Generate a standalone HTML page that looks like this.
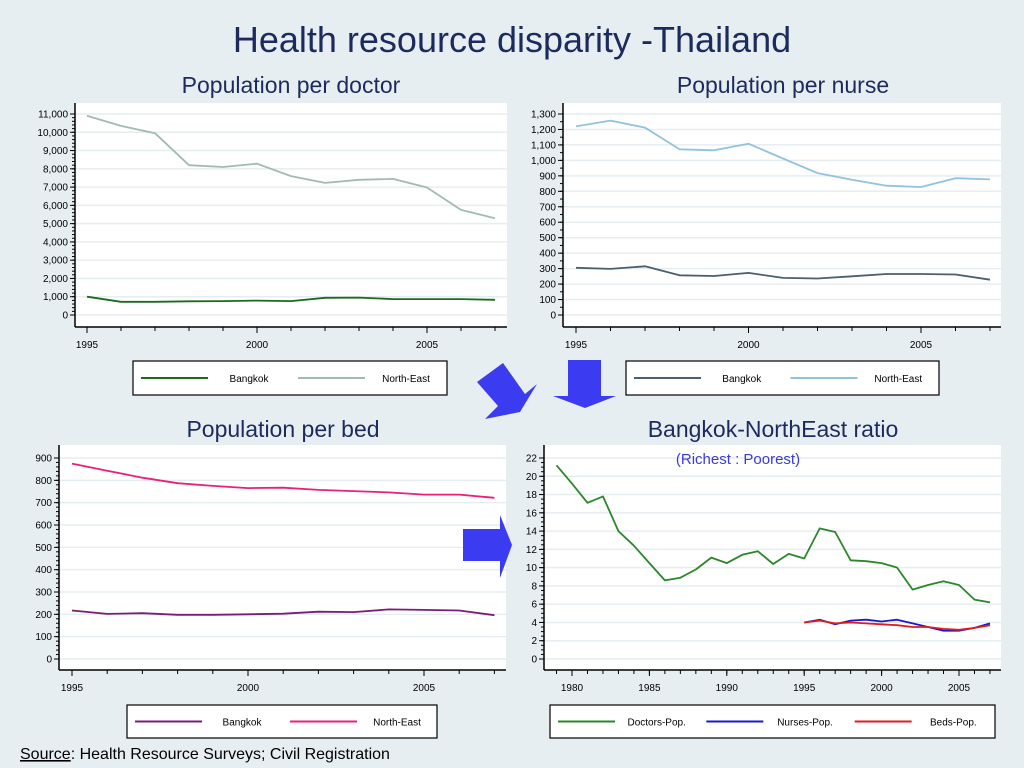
<!DOCTYPE html>
<html><head><meta charset="utf-8"><style>
body{margin:0;background:#e7eef2;}
svg{display:block;font-family:"Liberation Sans",sans-serif;}
</style></head><body>
<svg id="s" width="1024" height="768" viewBox="0 0 1024 768">
<rect width="1024" height="768" fill="#e7eef2"/>
<text x="512" y="52" text-anchor="middle" font-size="36" fill="#1c2b5e">Health resource disparity -Thailand</text>
<text x="291" y="93" text-anchor="middle" font-size="23" fill="#1c2b5e">Population per doctor</text>
<text x="783" y="93" text-anchor="middle" font-size="23" fill="#1c2b5e">Population per nurse</text>
<text x="283" y="437" text-anchor="middle" font-size="23" fill="#1c2b5e">Population per bed</text>
<text x="773" y="437" text-anchor="middle" font-size="23" fill="#1c2b5e">Bangkok-NorthEast ratio</text>
<text x="20" y="759" font-size="16" fill="#000"><tspan text-decoration="underline">Source</tspan>: Health Resource Surveys; Civil Registration</text>
<g id="charts"></g>
<polygon points="477,382 503,363 525,394 537,384 520,412 485,419 498,406" fill="#3b3bf2"/>
<polygon points="568,360 601,360 601,396 616,396 585,408 553,396 568,396" fill="#3b3bf2"/>
<polygon points="463,529 500,529 500,515 512,545 500,578 500,561 463,561" fill="#3b3bf2"/>
</svg>
<script>
const years = [1995,1996,1997,1998,1999,2000,2001,2002,2003,2004,2005,2006,2007];
const docBkk = [1000,720,720,750,760,790,760,940,950,870,870,870,830];
const docNE = [10900,10350,9950,8200,8100,8280,7600,7230,7400,7450,6980,5750,5300];
const docTicks = [0,1000,2000,3000,4000,5000,6000,7000,8000,9000,10000,11000];
const nurBkk = [305,298,315,257,252,272,240,236,250,265,265,262,228];
const nurNE = [1220,1257,1212,1072,1065,1108,1012,918,875,836,828,885,877];
const nurTicks = [0,100,200,300,400,500,600,700,800,900,1000,1100,1200,1300];
const bedBkk = [217,202,205,198,198,200,203,212,210,222,220,217,196];
const bedNE = [875,843,812,787,775,765,767,757,752,746,736,736,722];
const bedTicks = [0,100,200,300,400,500,600,700,800,900];
const ratioYears = [1979,1980,1981,1982,1983,1984,1985,1986,1987,1988,1989,1990,1991,1992,1993,1994,1995,1996,1997,1998,1999,2000,2001,2002,2003,2004,2005,2006,2007];
const ratioDoc = [21.2,19.2,17.1,17.8,14,12.4,10.5,8.6,8.9,9.8,11.1,10.5,11.4,11.8,10.4,11.5,11,14.3,13.9,10.8,10.7,10.5,10,7.6,8.1,8.5,8.1,6.5,6.2];
const ratioNur = [4.0,4.3,3.8,4.2,4.3,4.1,4.3,3.9,3.5,3.1,3.1,3.4,3.9];
const ratioBed = [4.0,4.2,3.9,4.0,3.9,3.8,3.7,3.5,3.5,3.3,3.2,3.4,3.7];
const ratioTicks = [0,2,4,6,8,10,12,14,16,18,20,22];

const NS="http://www.w3.org/2000/svg";
const root=document.getElementById('charts');
function mk(tag,attrs,parent){const e=document.createElementNS(NS,tag);for(const k in attrs)e.setAttribute(k,attrs[k]);(parent||root).appendChild(e);return e;}
const fmt=v=>v.toLocaleString('en-US');

function chart(c){
  const g=mk('g',{});
  
  
  const yv=v=>c.y0+(v-c.vmin)/(c.vmax-c.vmin)*(c.y1-c.y0);
  const xv=v=>c.x0+(v-c.t0)/(c.t1-c.t0)*(c.x1-c.x0);
  mk('rect',{x:c.axX,y:c.top,width:c.right-c.axX,height:c.axY-c.top,fill:'#fff'},g);
  c.yticks.forEach(t=>{
    const y=yv(t);
    const gl=mk('line',{x1:c.axX,x2:c.right,y1:y,y2:y,stroke:'#e6edf1','stroke-width':1.5},g);
    
    
    mk('line',{x1:c.axX-5,x2:c.axX,y1:y,y2:y,stroke:'#000'},g);
    const tl=mk('text',{x:c.axX-7,y:y+3.5,'text-anchor':'end','font-size':10,fill:'#000'},g);
    tl.textContent=fmt(t);
    
    
  });
  const step=(c.yticks[1]-c.yticks[0])/c.minor;
  for(let v=c.yticks[0];v<=c.yticks[c.yticks.length-1]+1e-9;v+=step){
    const y=yv(v);mk('line',{x1:c.axX-3,x2:c.axX,y1:y,y2:y,stroke:'#000'},g);
  }
  mk('line',{x1:c.axX,x2:c.axX,y1:c.top,y2:c.axY,stroke:'#000','stroke-width':1.5},g);
  mk('line',{x1:c.axX,x2:c.right,y1:c.axY,y2:c.axY,stroke:'#000','stroke-width':1.5},g);
  c.xminor.forEach(t=>{const x=xv(t);mk('line',{x1:x,x2:x,y1:c.axY,y2:c.axY+4,stroke:'#000'},g);});
  c.xlabels.forEach(t=>{
    const x=xv(t);mk('line',{x1:x,x2:x,y1:c.axY,y2:c.axY+6,stroke:'#000'},g);
    const tl=mk('text',{x:x,y:c.axY+21,'text-anchor':'middle','font-size':10,fill:'#000'},g);
    tl.textContent=t;
    
    
  });
  c.series.forEach(s=>{
    const p=s.vals.map((v,i)=>xv(s.xs[i]).toFixed(1)+','+yv(v).toFixed(1)).join(' ');
    const pl=mk('polyline',{points:p,fill:'none',stroke:s.color,'stroke-width':1.8,'stroke-linejoin':'round'},g);
    
    
  });
  const L=c.leg;
  const lb=mk('rect',{x:L.x,y:L.y,width:L.w,height:L.h,fill:'#fff',stroke:'#000','stroke-width':1.2},g);
  
  
  const seg=L.w/c.series.length;
  c.series.forEach((s,i)=>{
    const bx=L.x+i*seg;
    mk('line',{x1:bx+8,x2:bx+8+L.sw,y1:L.y+L.h/2,y2:L.y+L.h/2,stroke:s.color,'stroke-width':2},g);
    const t=mk('text',{x:bx+8+L.sw+(seg-8-L.sw)/2,y:L.y+L.h/2+4,'text-anchor':'middle','font-size':10,fill:'#000'},g);
    t.textContent=s.label;
    
    
  });
}
const Y5=[1995,2000,2005];
chart({name:'doctor-chart',axX:75,axY:327,top:103,right:507,y0:315,y1:114,vmin:0,vmax:11000,x0:87,x1:427,t0:1995,t1:2005,
  yticks:docTicks,minor:5,xlabels:Y5,xminor:years,
  series:[{id:'doctor-bangkok-line',xs:years,vals:docBkk,color:'#1d6a1d',label:'Bangkok'},{id:'doctor-northeast-line',xs:years,vals:docNE,color:'#a3bab3',label:'North-East'}],
  leg:{x:133,y:361,w:314,h:34,sw:67}});
chart({name:'nurse-chart',axX:563,axY:327,top:103,right:1001,y0:315,y1:114,vmin:0,vmax:1300,x0:576,x1:921,t0:1995,t1:2005,
  yticks:nurTicks,minor:2,xlabels:Y5,xminor:years,
  series:[{id:'nurse-bangkok-line',xs:years,vals:nurBkk,color:'#4a5f70',label:'Bangkok'},{id:'nurse-northeast-line',xs:years,vals:nurNE,color:'#91c3df',label:'North-East'}],
  leg:{x:626,y:361,w:313,h:34,sw:67}});
chart({name:'bed-chart',axX:59,axY:670,top:445,right:506,y0:659,y1:458,vmin:0,vmax:900,x0:72,x1:424,t0:1995,t1:2005,
  yticks:bedTicks,minor:5,xlabels:Y5,xminor:years,
  series:[{id:'bed-bangkok-line',xs:years,vals:bedBkk,color:'#7a1c78',label:'Bangkok'},{id:'bed-northeast-line',xs:years,vals:bedNE,color:'#e8207a',label:'North-East'}],
  leg:{x:127,y:705,w:310,h:33,sw:67}});
chart({name:'ratio-chart',axX:544,axY:670,top:445,right:1001,y0:659,y1:458,vmin:0,vmax:22,x0:572,x1:959,t0:1980,t1:2005,
  yticks:ratioTicks,minor:4,xlabels:[1980,1985,1990,1995,2000,2005],xminor:ratioYears,
  series:[{id:'ratio-doctors-line',xs:ratioYears,vals:ratioDoc,color:'#2a872a',label:'Doctors-Pop.'},{id:'ratio-nurses-line',xs:years,vals:ratioNur,color:'#1a1acc',label:'Nurses-Pop.'},{id:'ratio-beds-line',xs:years,vals:ratioBed,color:'#e21c1c',label:'Beds-Pop.'}],
  leg:{x:550,y:705,w:445,h:33,sw:57}});
const sub=mk('text',{x:738,y:464,'text-anchor':'middle','font-size':15,fill:'#3b3bd8'});
sub.textContent='(Richest : Poorest)';


</script>
</body></html>
